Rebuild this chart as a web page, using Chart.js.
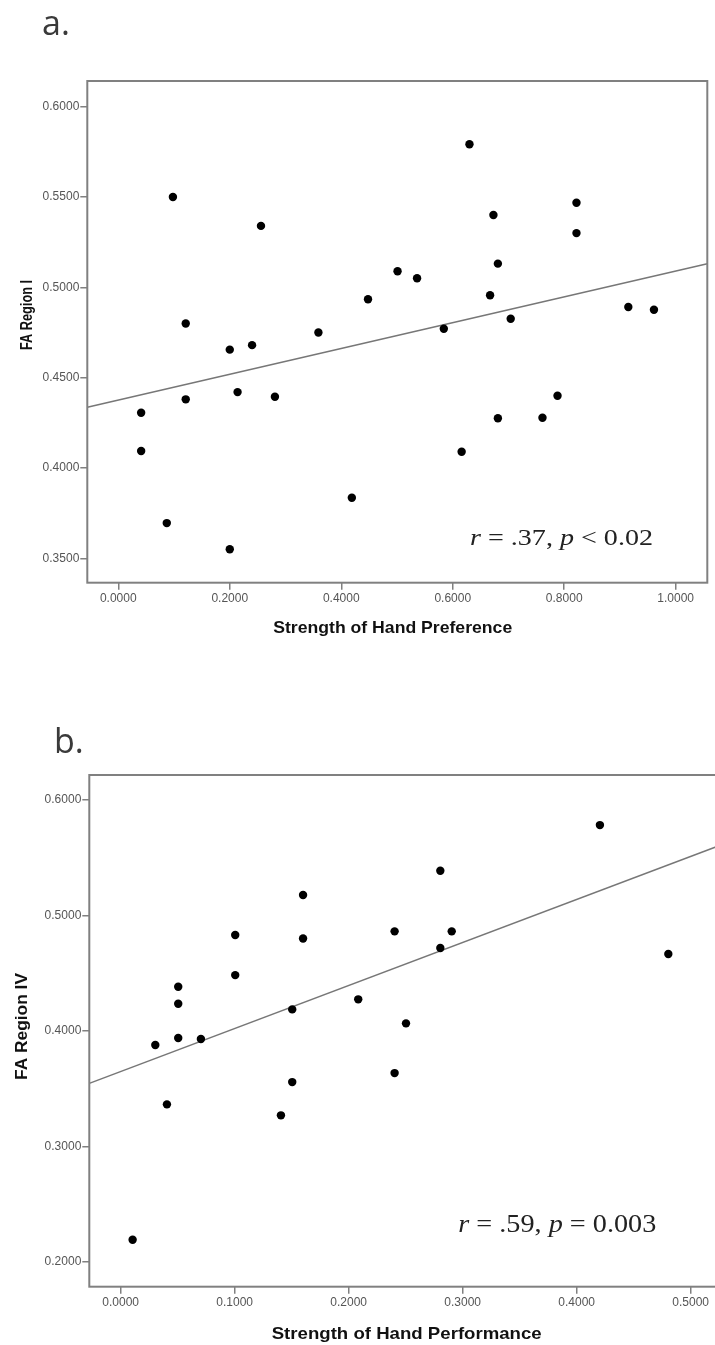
<!DOCTYPE html>
<html>
<head>
<meta charset="utf-8">
<script src="https://cdn.jsdelivr.net/npm/chart.js@4.4.1/dist/chart.umd.min.js"></script>
<style>
  html, body { margin: 0; padding: 0; background: #fff; overflow: hidden; width: 715px; height: 1345px; }
  canvas { position: absolute; left: 0; }
  #chartA { top: 0; }
  #chartB { top: 680px; }
</style>
</head>
<body>
<canvas id="chartA" width="715" height="660"></canvas>
<canvas id="chartB" width="725" height="665"></canvas>
<script>
// panel a: strength of hand preference vs FA region I
const prefX = [0.098, 0.256, 0.121, 0.359, 0.200, 0.240, 0.041, 0.041, 0.121, 0.214, 0.281, 0.087, 0.200, 0.419, 0.630, 0.673, 0.822, 0.822, 0.681, 0.501, 0.536, 0.448, 0.667, 0.704, 0.584, 0.915, 0.961, 0.788, 0.681, 0.761, 0.616];
const regionI = [0.550, 0.534, 0.480, 0.475, 0.4655, 0.468, 0.4306, 0.4094, 0.438, 0.442, 0.4394, 0.3695, 0.355, 0.3835, 0.5792, 0.540, 0.5468, 0.530, 0.5131, 0.5089, 0.505, 0.4934, 0.4956, 0.4826, 0.4771, 0.4891, 0.4876, 0.440, 0.4275, 0.4278, 0.409];
const fitAX = [-0.0556, 1.0567];
const fitAY = [0.4336, 0.5131];
const ticksAX = [0, 0.2, 0.4, 0.6, 0.8, 1.0];
const ticksAY = [0.35, 0.40, 0.45, 0.50, 0.55, 0.60];

// panel b: strength of hand performance vs FA region IV
const perfX = [0.160, 0.160, 0.1005, 0.1005, 0.0505, 0.0505, 0.1505, 0.2084, 0.4204, 0.2804, 0.2403, 0.2904, 0.2804, 0.4804, 0.2503, 0.0304, 0.0505, 0.0704, 0.1505, 0.0406, 0.1406, 0.0105, 0.2403];
const regionIV = [0.5177, 0.480, 0.483, 0.4483, 0.4382, 0.4235, 0.4186, 0.4273, 0.5783, 0.5387, 0.4862, 0.4862, 0.4718, 0.4666, 0.4065, 0.3877, 0.3938, 0.3929, 0.3556, 0.3363, 0.3268, 0.219, 0.3634];
const fitBX = [-0.0275, 0.5231];
const fitBY = [0.3545, 0.5597];
const ticksBX = [0, 0.1, 0.2, 0.3, 0.4, 0.5];
const ticksBY = [0.2, 0.3, 0.4, 0.5, 0.6];

const GREY = '#808080';
const TICK_FONT = { family: 'Liberation Sans, Arial, sans-serif', size: 12 };

// draws text segments squeezed/stretched to a given width
function drawFitted(ctx, segs, x, y, width, rotate) {
  let total = 0;
  segs.forEach(s => { ctx.font = s.font; total += ctx.measureText(s.text).width; });
  ctx.save();
  ctx.translate(x, y);
  if (rotate) ctx.rotate(-Math.PI / 2);
  ctx.scale(width / total, 1);
  ctx.textBaseline = 'alphabetic';
  ctx.textAlign = 'left';
  let cx = rotate ? -total / 2 : 0;
  segs.forEach(s => {
    ctx.font = s.font;
    ctx.fillStyle = s.color || '#000';
    ctx.fillText(s.text, cx, 0);
    cx += ctx.measureText(s.text).width;
  });
  ctx.restore();
}

const decor = (cfg) => ({
  id: 'decor',
  afterDraw(chart) {
    const ctx = chart.ctx;
    const a = chart.chartArea;
    ctx.save();
    ctx.strokeStyle = GREY;
    ctx.lineWidth = 2;
    ctx.strokeRect(a.left, a.top, a.right - a.left, a.bottom - a.top);
    ctx.restore();

    // panel letter
    ctx.save();
    ctx.font = cfg.letter.size + 'px "Open Sans", sans-serif';
    ctx.fillStyle = '#3a3a3a';
    ctx.textBaseline = 'alphabetic';
    ctx.fillText(cfg.letter.text, cfg.letter.x, cfg.letter.y);
    ctx.restore();

    // axis titles
    const bold = 'bold 17px "Liberation Sans", Arial, sans-serif';
    const xw = cfg.xTitle;
    drawFitted(ctx, [{ text: xw.text, font: bold, color: '#111' }], xw.x - xw.w / 2, xw.y, xw.w, false);
    const yw = cfg.yTitle;
    drawFitted(ctx, [{ text: yw.text, font: bold, color: '#111' }], yw.x, yw.y, yw.w, true);

    // correlation note
    const n = cfg.note;
    const f = n.size + 'px "Liberation Serif", serif';
    const fi = 'italic ' + f;
    drawFitted(ctx, [
      { text: 'r', font: fi, color: '#222' },
      { text: ' = ' + n.r + ', ', font: f, color: '#222' },
      { text: 'p', font: fi, color: '#222' },
      { text: ' ' + n.p, font: f, color: '#222' }
    ], n.x, n.y, n.w, false);
  }
});

function scatterChart(id, xs, ys, fx, fy, xr, yr, xt, yt, layout, cfg) {
  const pts = xs.map((x, i) => ({ x: x, y: ys[i] }));
  const line = fx.map((x, i) => ({ x: x, y: fy[i] }));
  return new Chart(document.getElementById(id), {
    type: 'scatter',
    data: {
      datasets: [
        { data: pts, pointRadius: 4.2, pointBackgroundColor: '#000', pointBorderWidth: 0, showLine: false },
        { data: line, showLine: true, borderColor: '#777', borderWidth: 1.5, pointRadius: 0, clip: false }
      ]
    },
    options: {
      responsive: false,
      animation: false,
      layout: { padding: layout.padding },
      plugins: { legend: { display: false }, tooltip: { enabled: false } },
      scales: {
        x: {
          type: 'linear', min: xr[0], max: xr[1],
          afterBuildTicks: s => { s.ticks = xt.map(v => ({ value: v })); },
          afterFit: s => { s.height = layout.xh; },
          border: { display: false },
          grid: { drawOnChartArea: false, drawTicks: true, tickLength: 7, color: GREY, lineWidth: 1.5 },
          ticks: { font: TICK_FONT, color: '#555', padding: 2, maxRotation: 0, callback: v => v.toFixed(4) }
        },
        y: {
          type: 'linear', min: yr[0], max: yr[1],
          afterBuildTicks: s => { s.ticks = yt.map(v => ({ value: v })); },
          afterFit: s => { s.width = layout.yw; },
          border: { display: false },
          grid: { drawOnChartArea: false, drawTicks: true, tickLength: 7, color: GREY, lineWidth: 1.5 },
          ticks: { font: TICK_FONT, color: '#555', padding: 1, callback: v => v.toFixed(4) }
        }
      }
    },
    plugins: [decor(cfg)]
  });
}

scatterChart('chartA', prefX, regionI, fitAX, fitAY, [-0.0556, 1.0567], [0.3365, 0.6142], ticksAX, ticksAY,
  { padding: { top: 81, left: 0, right: 7.7, bottom: 47.3 }, xh: 30, yw: 87.3 },
  {
    letter: { text: 'a.', x: 42, y: 35, size: 34 },
    xTitle: { text: 'Strength of Hand Preference', x: 392.7, y: 633.3, w: 239 },
    yTitle: { text: 'FA Region I', x: 31.7, y: 315, w: 70 },
    note: { r: '.37', p: '< 0.02', x: 470, y: 545, w: 183, size: 23 }
  });

scatterChart('chartB', perfX, regionIV, fitBX, fitBY, [-0.0275, 0.5231], [0.1783, 0.6217], ticksBX, ticksBY,
  { padding: { top: 95, left: 0, right: 8, bottom: 28.3 }, xh: 30, yw: 89.3 },
  {
    letter: { text: 'b.', x: 54, y: 73.3, size: 34 },
    xTitle: { text: 'Strength of Hand Performance', x: 406.7, y: 659.3, w: 270 },
    yTitle: { text: 'FA Region IV', x: 27.3, y: 346.5, w: 107 },
    note: { r: '.59', p: '= 0.003', x: 458.3, y: 551.7, w: 198, size: 24.5 }
  });
</script>
</body>
</html>
